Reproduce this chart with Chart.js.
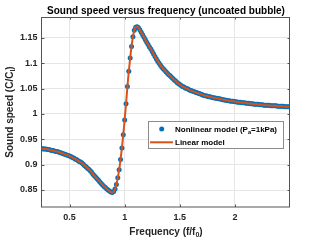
<!DOCTYPE html>
<html><head><meta charset="utf-8">
<script src="https://cdn.jsdelivr.net/npm/chart.js@4/dist/chart.umd.min.js"></script>
<style>html,body{margin:0;padding:0;background:#fff;overflow:hidden}#wrap{width:321px;height:241px;position:relative}</style>
</head><body><div id="wrap"><canvas id="c" width="321" height="241"></canvas></div>
<script>
// Normalised frequency f/f0
const freq = [
  0.25,0.2625,0.275,0.2875,0.3,0.3125,0.325,
  0.3375,0.35,0.3625,0.375,0.3875,0.4,0.4125,
  0.425,0.4375,0.45,0.4625,0.475,0.4875,0.5,
  0.5125,0.525,0.5375,0.55,0.5625,0.575,0.5875,
  0.6,0.6125,0.625,0.6375,0.65,0.6625,0.675,
  0.6875,0.7,0.7125,0.725,0.7375,0.75,0.7625,
  0.775,0.7875,0.8,0.8125,0.825,0.8375,0.85,
  0.8625,0.875,0.8875,0.9,0.9125,0.925,0.9375,
  0.95,0.9625,0.975,0.9875,1.0,1.0125,1.025,
  1.0375,1.05,1.0625,1.075,1.0875,1.1,1.1125,
  1.125,1.1375,1.15,1.1625,1.175,1.1875,1.2,
  1.2125,1.225,1.2375,1.25,1.2625,1.275,1.2875,1.3,
  1.3125,1.325,1.3375,1.35,1.3625,1.375,1.3875,1.4,
  1.4125,1.425,1.4375,1.45,1.4625,1.475,1.4875,1.5,
  1.5125,1.525,1.5375,1.55,1.5625,1.575,1.5875,1.6,
  1.6125,1.625,1.6375,1.65,1.6625,1.675,1.6875,1.7,
  1.7125,1.725,1.7375,1.75,1.7625,1.775,1.7875,1.8,
  1.8125,1.825,1.8375,1.85,1.8625,1.875,1.8875,1.9,
  1.9125,1.925,1.9375,1.95,1.9625,1.975,1.9875,2.0,
  2.0125,2.025,2.0375,2.05,2.0625,2.075,2.0875,2.1,
  2.1125,2.125,2.1375,2.15,2.1625,2.175,2.1875,2.2,
  2.2125,2.225,2.2375,2.25,2.2625,2.275,2.2875,2.3,
  2.3125,2.325,2.3375,2.35,2.3625,2.375,2.3875,2.4,
  2.4125,2.425,2.4375,2.45,2.4625,2.475,2.4875,2.5];
// Nonlinear model (Pa = 1 kPa), C/Cl
const nonlinearSpeed = [
  0.932,0.931,0.931,0.931,0.930,0.930,0.929,
  0.928,0.928,0.927,0.926,0.926,0.925,0.924,
  0.923,0.922,0.921,0.920,0.919,0.918,0.917,
  0.916,0.914,0.913,0.911,0.910,0.908,0.906,
  0.905,0.903,0.901,0.898,0.896,0.893,0.891,
  0.888,0.885,0.881,0.878,0.875,0.872,0.869,
  0.866,0.863,0.860,0.857,0.855,0.852,0.850,
  0.848,0.846,0.845,0.847,0.852,0.861,0.874,
  0.890,0.910,0.933,0.959,0.988,1.020,1.054,
  1.084,1.110,1.133,1.152,1.165,1.171,1.172,
  1.170,1.166,1.161,1.156,1.151,1.146,1.141,
  1.137,1.132,1.128,1.123,1.118,1.113,1.108,1.104,
  1.100,1.096,1.092,1.089,1.086,1.083,1.080,1.077,
  1.075,1.072,1.070,1.067,1.065,1.062,1.060,1.058,
  1.056,1.054,1.053,1.051,1.050,1.049,1.047,1.046,
  1.045,1.044,1.043,1.042,1.041,1.040,1.039,1.038,
  1.037,1.036,1.036,1.035,1.034,1.034,1.033,1.032,
  1.032,1.031,1.031,1.030,1.030,1.029,1.028,1.028,
  1.027,1.027,1.026,1.026,1.025,1.025,1.025,1.024,
  1.024,1.023,1.023,1.023,1.022,1.022,1.022,1.021,
  1.021,1.021,1.020,1.020,1.020,1.019,1.019,1.019,
  1.019,1.018,1.018,1.018,1.017,1.017,1.017,1.017,
  1.017,1.016,1.016,1.016,1.016,1.016,1.015,1.015,
  1.015,1.015,1.015,1.014,1.014,1.014,1.014,1.014];
// Linear model, C/Cl
const linearSpeed = [
  0.932,0.931,0.931,0.931,0.930,0.930,0.929,
  0.928,0.928,0.927,0.926,0.926,0.925,0.924,
  0.923,0.922,0.921,0.920,0.919,0.918,0.917,
  0.916,0.914,0.913,0.911,0.910,0.908,0.906,
  0.905,0.903,0.901,0.898,0.896,0.893,0.891,
  0.888,0.885,0.881,0.878,0.875,0.872,0.869,
  0.866,0.863,0.860,0.857,0.855,0.852,0.850,
  0.848,0.846,0.845,0.847,0.852,0.861,0.874,
  0.890,0.910,0.933,0.959,0.988,1.020,1.054,
  1.084,1.110,1.133,1.152,1.165,1.171,1.172,
  1.170,1.166,1.161,1.156,1.151,1.146,1.141,
  1.137,1.132,1.128,1.123,1.118,1.113,1.108,1.104,
  1.100,1.096,1.092,1.089,1.086,1.083,1.080,1.077,
  1.075,1.072,1.070,1.067,1.065,1.062,1.060,1.058,
  1.056,1.054,1.053,1.051,1.050,1.049,1.047,1.046,
  1.045,1.044,1.043,1.042,1.041,1.040,1.039,1.038,
  1.037,1.036,1.036,1.035,1.034,1.034,1.033,1.032,
  1.032,1.031,1.031,1.030,1.030,1.029,1.028,1.028,
  1.027,1.027,1.026,1.026,1.025,1.025,1.025,1.024,
  1.024,1.023,1.023,1.023,1.022,1.022,1.022,1.021,
  1.021,1.021,1.020,1.020,1.020,1.019,1.019,1.019,
  1.019,1.018,1.018,1.018,1.017,1.017,1.017,1.017,
  1.017,1.016,1.016,1.016,1.016,1.016,1.015,1.015,
  1.015,1.015,1.015,1.014,1.014,1.014,1.014,1.014];
const xTicks = [0.5, 1, 1.5, 2];
const yTicks = [0.85, 0.9, 0.95, 1, 1.05, 1.1, 1.15];
const chartTitle = 'Sound speed versus frequency (uncoated bubble)';
const xLabel = [['Frequency (f/f'], ['0', 'sub'], [')']];
const yLabel = [['Sound speed (C/C'], ['l', 'sub'], [')']];
const legendNonlinear = [['Nonlinear model (P'], ['a', 'sub'], ['=1kPa)']];
const legendLinear = [['Linear model']];

const FONT = "'Liberation Sans', Arial, sans-serif";
const BLUE = '#0072BD', ORANGE = '#D95319', INK = '#262626';

function richWidth(ctx, segs, size) {
  let w = 0;
  for (const [t, k] of segs) { ctx.font = 'bold ' + (k ? size * 0.7 : size) + 'px ' + FONT; w += ctx.measureText(t).width; }
  return w;
}
function drawRich(ctx, segs, x, y, size, align) {
  const w = richWidth(ctx, segs, size);
  let cx = align === 'center' ? x - w / 2 : x;
  ctx.textBaseline = 'alphabetic'; ctx.textAlign = 'left';
  for (const [t, k] of segs) {
    ctx.font = 'bold ' + (k ? size * 0.7 : size) + 'px ' + FONT;
    ctx.fillText(t, cx, k ? y + size * 0.25 : y);
    cx += ctx.measureText(t).width;
  }
}

const decor = {
  id: 'decor',
  afterDraw(chart) {
    const ctx = chart.ctx, a = chart.chartArea;
    const xs = chart.scales.x, ys = chart.scales.y;
    ctx.save();
    ctx.strokeStyle = '#555'; ctx.lineWidth = 1;
    ctx.strokeRect(Math.round(a.left) - 0.5, Math.round(a.top) + 0.5, Math.round(a.right - a.left), Math.round(a.bottom - a.top) - 0.5);
    ctx.beginPath();
    for (const v of xTicks) { const px = Math.round(xs.getPixelForValue(v)) + 0.5;
      ctx.moveTo(px, a.bottom); ctx.lineTo(px, a.bottom - 2.5); ctx.moveTo(px, a.top); ctx.lineTo(px, a.top + 2.5); }
    for (const v of yTicks) { const py = Math.round(ys.getPixelForValue(v)) + 0.5;
      ctx.moveTo(a.left, py); ctx.lineTo(a.left + 2.5, py); ctx.moveTo(a.right, py); ctx.lineTo(a.right - 2.5, py); }
    ctx.stroke();
    ctx.fillStyle = '#000';
    drawRich(ctx, [[chartTitle]], (a.left + a.right) / 2, 14, 10, 'center');
    ctx.fillStyle = INK;
    drawRich(ctx, xLabel, (a.left + a.right) / 2, 234.5, 10, 'center');
    ctx.save(); ctx.translate(12.5, (a.top + a.bottom) / 2); ctx.rotate(-Math.PI / 2);
    drawRich(ctx, yLabel, 0, 0, 10, 'center'); ctx.restore();
    ctx.fillStyle = '#fff'; ctx.fillRect(148, 121, 135, 27);
    ctx.strokeStyle = '#8c8c8c'; ctx.strokeRect(148.5, 121.5, 135, 27);
    ctx.fillStyle = BLUE; ctx.beginPath(); ctx.arc(161.7, 129, 2.5, 0, Math.PI * 2); ctx.fill();
    ctx.strokeStyle = ORANGE; ctx.lineWidth = 2; ctx.beginPath(); ctx.moveTo(150, 142.3); ctx.lineTo(173, 142.3); ctx.stroke();
    ctx.fillStyle = '#000';
    drawRich(ctx, legendNonlinear, 175, 131.8, 8, 'left');
    drawRich(ctx, legendLinear, 175, 145.2, 8, 'left');
    ctx.restore();
  }
};

const pts = (xv, yv) => xv.map((x, i) => ({ x, y: yv[i] }));

new Chart(document.getElementById('c'), {
  type: 'scatter',
  data: { datasets: [
    { label: 'Linear model', data: pts(freq, linearSpeed), showLine: true, pointRadius: 0, borderColor: ORANGE, borderWidth: 2, cubicInterpolationMode: 'monotone', order: 0 },
    { label: 'Nonlinear model (Pa=1kPa)', data: pts(freq, nonlinearSpeed), showLine: false, pointRadius: 2.5, pointBorderWidth: 0, backgroundColor: BLUE, borderColor: BLUE, order: 1 }
  ]},
  options: {
    responsive: false, animation: false, devicePixelRatio: 1,
    layout: { padding: { top: 17, right: 31, left: 0, bottom: 0 } },
    plugins: { legend: { display: false }, tooltip: { enabled: false }, title: { display: false } },
    scales: {
      x: { type: 'linear', min: 0.25, max: 2.5,
        afterBuildTicks: s => { s.ticks = xTicks.map(v => ({ value: v })); },
        afterFit: s => { s.height = 34; },
        ticks: { padding: 5, color: INK, font: { family: FONT, size: 9, weight: 'bold' }, maxRotation: 0, callback: v => String(v) },
        grid: { color: '#e6e6e6', drawTicks: false }, border: { display: false } },
      y: { type: 'linear', min: 0.8165, max: 1.191,
        afterBuildTicks: s => { s.ticks = yTicks.map(v => ({ value: v })); },
        afterFit: s => { s.width = 42; },
        ticks: { padding: 4.5, color: INK, font: { family: FONT, size: 9, weight: 'bold' }, callback: v => String(v) },
        grid: { color: '#e6e6e6', drawTicks: false }, border: { display: false } }
    }
  },
  plugins: [decor]
});
</script></body></html>
